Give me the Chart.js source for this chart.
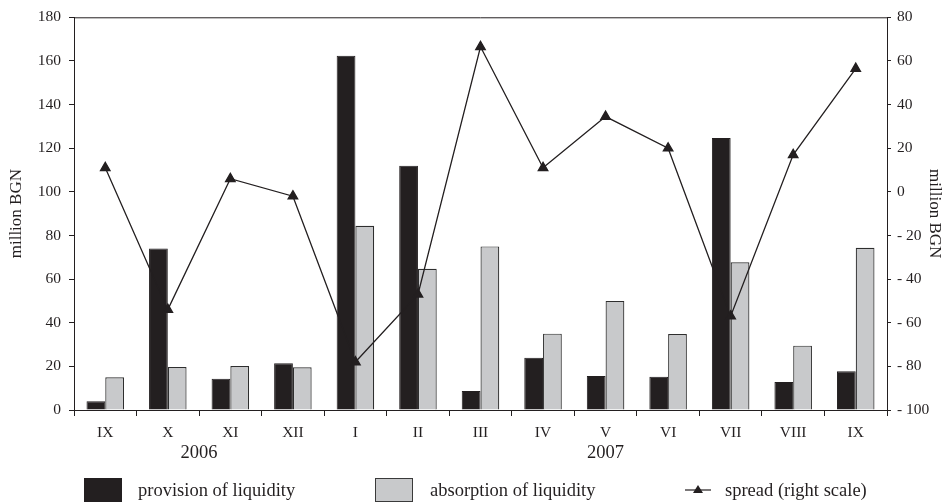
<!DOCTYPE html>
<html>
<head>
<meta charset="utf-8">
<script src="https://cdn.jsdelivr.net/npm/chart.js@4"></script>
<style>
  html, body { margin: 0; padding: 0; background: #fff; }
  #wrap { position: relative; width: 945px; height: 502px; overflow: hidden; font-family: "Liberation Serif", serif; color: #231f20; }
  canvas { position: absolute; left: 0; top: 0; }
  .lg { position: absolute; font-size: 18.5px; line-height: 24px; top: 478px; white-space: nowrap; }
  .box { position: absolute; top: 478px; width: 38px; height: 24px; box-sizing: border-box; }
</style>
</head>
<body>
<div id="wrap">
  <canvas id="chart" width="945" height="502"></canvas>
  <div class="box" style="left:84px;background:#231f20;"></div>
  <div class="lg" style="left:138px;">provision of liquidity</div>
  <div class="box" style="left:375px;background:#c8c9cb;border:1px solid #3a3a3a;"></div>
  <div class="lg" style="left:430px;">absorption of liquidity</div>
  <svg style="position:absolute;left:683px;top:482px;" width="30" height="16">
    <line x1="2" y1="8" x2="28" y2="8" stroke="#231f20" stroke-width="1.2"/>
    <polygon points="15,3 20,11 10,11" fill="#231f20"/>
  </svg>
  <div class="lg" style="left:725px;">spread (right scale)</div>
</div>
<script>
const months = ['IX', 'X', 'XI', 'XII', 'I', 'II', 'III', 'IV', 'V', 'VI', 'VII', 'VIII', 'IX'];
const provision = [4, 74, 14.3, 21.4, 162.4, 112, 8.7, 24, 15.6, 15.2, 124.7, 12.8, 17.8];
const absorption = [15, 19.7, 20.2, 19.6, 84.4, 64.7, 75, 35, 50, 34.8, 67.7, 29.5, 74.4];
const spread = [11, -54, 6, -2, -78, -47, 66.5, 11, 34.5, 20, -57, 17, 56.5];
const years = [
  { label: '2006', from: 0, to: 3 },
  { label: '2007', from: 4, to: 12 }
];

const ink = '#231f20';
const serif = '"Liberation Serif", serif';

// top frame line + year labels under the month ticks
const extras = {
  id: 'extras',
  afterDraw(chart) {
    const { ctx, chartArea, scales } = chart;
    ctx.save();
    ctx.strokeStyle = ink;
    ctx.lineWidth = 1;
    ctx.beginPath();
    ctx.moveTo(chartArea.left, chartArea.top + 0.5);
    ctx.lineTo(chartArea.right, chartArea.top + 0.5);
    ctx.stroke();
    ctx.fillStyle = ink;
    ctx.font = '18.5px ' + serif;
    ctx.textAlign = 'center';
    ctx.textBaseline = 'middle';
    years.forEach((y) => {
      const x = (scales.x.getPixelForValue(y.from) + scales.x.getPixelForValue(y.to)) / 2;
      ctx.fillText(y.label, x, 453);
    });
    ctx.restore();
  }
};

new Chart(document.getElementById('chart'), {
  type: 'bar',
  data: {
    labels: months,
    datasets: [
      {
        type: 'line',
        label: 'spread (right scale)',
        data: spread,
        yAxisID: 'y2',
        borderColor: ink,
        borderWidth: 1.3,
        backgroundColor: ink,
        pointStyle: 'triangle',
        pointRadius: 5.5,
        pointBackgroundColor: ink,
        pointBorderColor: ink,
        tension: 0,
        order: 0
      },
      {
        label: 'provision of liquidity',
        data: provision,
        yAxisID: 'y',
        backgroundColor: ink,
        borderColor: ink,
        borderWidth: 1,
        categoryPercentage: 0.6,
        barPercentage: 1.0,
        order: 1
      },
      {
        label: 'absorption of liquidity',
        data: absorption,
        yAxisID: 'y',
        backgroundColor: '#c8c9cb',
        borderColor: '#2e2e2e',
        borderWidth: 1.2,
        categoryPercentage: 0.6,
        barPercentage: 1.0,
        order: 1
      }
    ]
  },
  options: {
    responsive: false,
    animation: false,
    layout: { padding: { top: 15, left: 0, right: 0, bottom: 0 } },
    plugins: { legend: { display: false }, tooltip: { enabled: false } },
    scales: {
      x: {
        grid: { drawOnChartArea: false, drawTicks: true, tickLength: 6, color: ink, offset: true },
        border: { color: ink, width: 1 },
        ticks: { color: ink, font: { family: serif, size: 15.5 }, padding: 8, maxRotation: 0, autoSkip: false },
        afterFit: (s) => { s.height = 92; }
      },
      y: {
        position: 'left',
        min: 0,
        max: 180,
        ticks: { stepSize: 20, color: ink, font: { family: serif, size: 15.5 }, padding: 8 },
        grid: { drawOnChartArea: false, drawTicks: true, tickLength: 5, color: ink },
        border: { color: ink, width: 1 },
        title: { display: true, text: 'million BGN', color: ink, font: { family: serif, size: 17 }, padding: { top: 6, bottom: 0 } },
        afterFit: (s) => { s.width = 74; }
      },
      y2: {
        position: 'right',
        min: -100,
        max: 80,
        ticks: {
          stepSize: 20,
          color: ink,
          font: { family: serif, size: 15.5 },
          padding: 6,
          callback: (v) => (v < 0 ? '- ' + Math.abs(v) : String(v))
        },
        grid: { drawOnChartArea: false, drawTicks: true, tickLength: 4, color: ink },
        border: { color: ink, width: 1 },
        title: { display: true, text: 'million BGN', color: ink, font: { family: serif, size: 17 }, padding: 0 },
        afterFit: (s) => { s.width = 58; }
      }
    }
  },
  plugins: [extras]
});
</script>
</body>
</html>
